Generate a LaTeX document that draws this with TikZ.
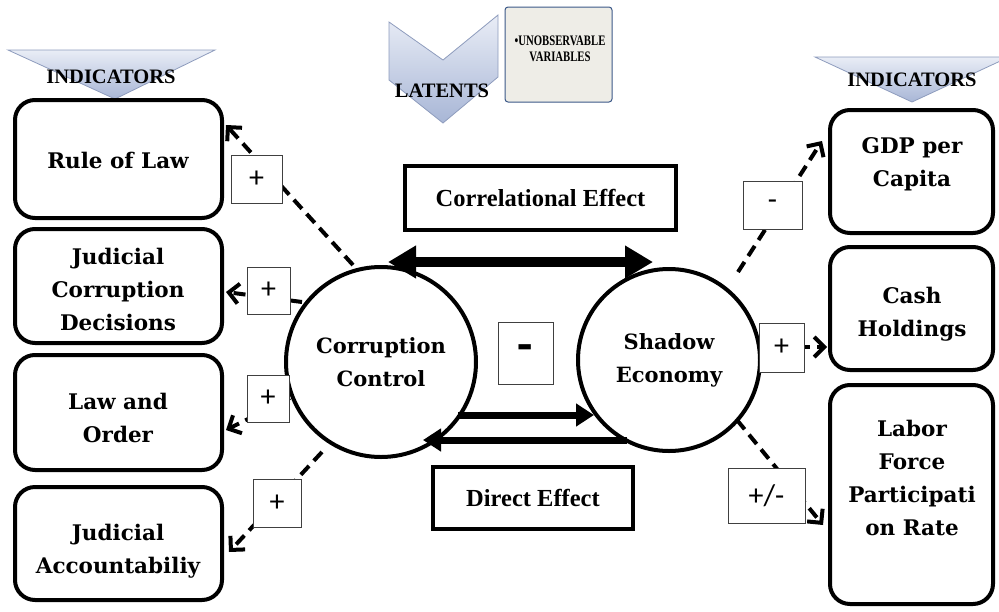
\documentclass[tikz,border=0pt]{standalone}
\usepackage{fontspec}
\setmainfont{Liberation Serif}
\newfontfamily\boxfont{DejaVu Serif}
\newfontfamily\calfont{Carlito}
\usetikzlibrary{arrows.meta}
\definecolor{bantop}{HTML}{E9EDF6}
\definecolor{banbot}{HTML}{A8B6D6}
\definecolor{banline}{HTML}{8E9CBD}
\definecolor{uofill}{HTML}{EEEDE7}
\definecolor{uoline}{HTML}{3B5888}
\begin{document}
\begin{tikzpicture}[x=1pt,y=-1pt,
  indbox/.style={draw=black, line width=4pt, rounded corners=20pt, inner sep=0pt},
  indtext/.style={font=\boxfont\bfseries\fontsize{21.5}{33}\selectfont, align=center, inner sep=0pt},
  circ/.style={circle, draw=black, line width=4pt, inner sep=0pt, font=\boxfont\bfseries\fontsize{21}{33}\selectfont, align=center},
  lbl/.style={draw=black!75, line width=0.8pt, fill=white, inner sep=0pt, font=\calfont\fontsize{30}{30}\selectfont},
  effbox/.style={draw=black, line width=4pt, inner sep=0pt, font=\bfseries\fontsize{24.5}{26}\selectfont},
  dasharr/.style={line width=4pt, dash pattern=on 12pt off 7pt, -{Straight Barb[length=10pt,width=20pt,line width=4pt]}},
  bantext/.style={font=\bfseries\fontsize{20.5}{22}\selectfont, inner sep=0pt},
  banshade/.style={top color=bantop, bottom color=banbot, draw=banline, line width=0.8pt}
]
\useasboundingbox (0,0) rectangle (999,611);

% banners
\shade[banshade] (8,50) -- (215,50) -- (115,99) -- cycle;
\node[bantext] (indL) at (111,77) {INDICATORS};
\shade[banshade] (815,57) -- (1009,57) -- (912,102) -- cycle;
\node[bantext] (indR) at (912,80) {INDICATORS};

% latents chevron
\shade[banshade] (389,22) -- (443,60) -- (498,15) -- (498,77) -- (443,123) -- (389,80) -- cycle;
\node[bantext] (lat) at (442,91) {LATENTS};
\node[draw=uoline, fill=uofill, line width=1pt, rounded corners=3pt, minimum width=107pt, minimum height=95pt, inner sep=0pt] (uobox) at (558.5,54.5) {};
\node[font=\bfseries\fontsize{14.5}{15.5}\selectfont, align=center, inner sep=0pt, xscale=0.74, transform shape] (uotext) at (560,49) {\textbullet UNOBSERVABLE\\VARIABLES};

% left indicator boxes
\node[indbox, minimum width=207pt, minimum height=118pt] (L1) at (118.5,159) {};
\node[indbox, minimum width=207pt, minimum height=114pt] (L2) at (118.5,286) {};
\node[indbox, minimum width=207pt, minimum height=115pt] (L3) at (118.5,412.5) {};
\node[indbox, minimum width=207pt, minimum height=113pt] (L4) at (118.5,543.5) {};
\node[indtext] (L1t) at (118,160) {Rule of Law};
\node[indtext] (L2t) at (118,289) {Judicial\\Corruption\\Decisions};
\node[indtext] (L3t) at (118,418) {Law and\\Order};
\node[indtext] (L4t) at (118,551) {Judicial\\Accountabiliy};

% right indicator boxes
\node[indbox, minimum width=163pt, minimum height=123pt] (R1) at (911.5,171.5) {};
\node[indbox, minimum width=163pt, minimum height=123pt] (R2) at (911.5,308.5) {};
\node[indbox, minimum width=163pt, minimum height=219pt] (R3) at (911.5,494.5) {};
\node[indtext] (R1t) at (912,164) {GDP per\\Capita};
\node[indtext] (R2t) at (912,314) {Cash\\Holdings};
\node[indtext] (R3t) at (912,478) {Labor\\Force\\Participati\\on Rate};

% latent circles
\node[circ, minimum size=190pt] (CC) at (381,362) {Corruption\\Control};
\node[circ, minimum size=182pt] (SE) at (669,360) {Shadow\\Economy};

% effect boxes
\node[effbox, minimum width=271pt, minimum height=64pt] (corr) at (540.5,198) {Correlational Effect};
\node[effbox, minimum width=200pt, minimum height=62pt] (dir) at (533,498) {Direct Effect};

% connector end points
\coordinate (ta) at (388,262);
\coordinate (tb) at (653,262);
\coordinate (da) at (458,415);
\coordinate (db) at (594,415);
\coordinate (ea) at (627,440);
\coordinate (eb) at (423,440);

\coordinate (l1s) at (353,265);  \coordinate (l1e) at (226,125);
\coordinate (l2s) at (302,302);  \coordinate (l2e) at (226,292);
\coordinate (l3s) at (290,398);  \coordinate (l3e) at (226,430);
\coordinate (l4s) at (322,452);  \coordinate (l4e) at (229,552);
\coordinate (r1s) at (738,272);  \coordinate (r1e) at (822,141);
\coordinate (r2s) at (760,347);  \coordinate (r2e) at (827,347);
\coordinate (r3s) at (737,420);  \coordinate (r3e) at (823,525);

% main arrows
\draw[line width=10pt, {Triangle[length=28pt,width=31pt]}-{Triangle[length=28pt,width=31pt]}] (ta) -- (tb);
\draw[line width=7pt, -{Triangle[length=18pt,width=22pt]}] (da) -- (db);
\draw[line width=7pt, -{Triangle[length=18pt,width=22pt]}] (ea) -- (eb);

% dashed indicator arrows
\draw[dasharr] (l1s) -- (l1e);
\draw[dasharr] (l2s) -- (l2e);
\draw[dasharr] (l3s) -- (l3e);
\draw[dasharr] (l4s) -- (l4e);
\draw[dasharr] (r1s) -- (r1e);
\draw[dasharr] (r2s) -- (r2e);
\draw[dasharr] (r3s) -- (r3e);

% sign labels
\node[lbl, minimum width=51pt, minimum height=48pt] (s1) at (256.5,179) {+};
\node[lbl, minimum width=43pt, minimum height=47pt] (s2) at (268.5,290.5) {+};
\node[lbl, minimum width=42pt, minimum height=47pt] (s3) at (268,398.5) {+};
\node[lbl, minimum width=48pt, minimum height=48pt] (s4) at (277,503) {+};
\node[lbl, minimum width=59pt, minimum height=48pt] (s5) at (772.5,205) {-};
\node[lbl, minimum width=45pt, minimum height=49pt] (s6) at (781.5,347.5) {+};
\node[lbl, minimum width=77pt, minimum height=55pt] (s7) at (766.5,495.5) {+/-};
\node[lbl, minimum width=55pt, minimum height=62pt, font=\calfont\bfseries\fontsize{50}{50}\selectfont] (s0) at (525.5,353) {-};
\end{tikzpicture}
\end{document}
